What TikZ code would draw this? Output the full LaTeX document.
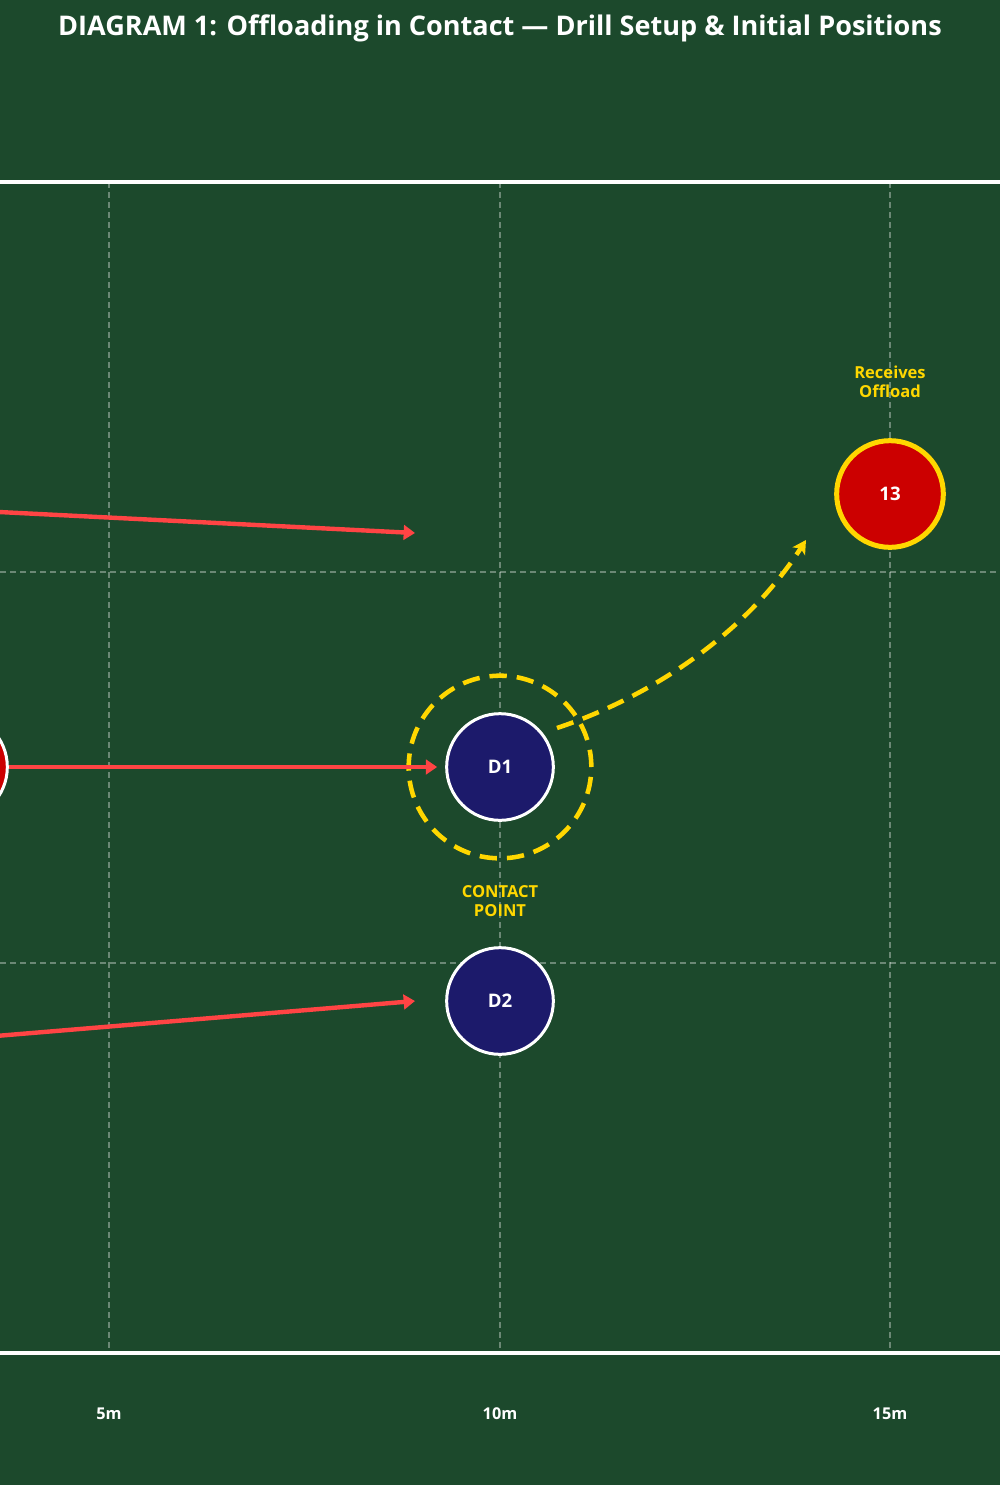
\documentclass[tikz,border=0pt]{standalone}
\usepackage{fontspec}
\setmainfont{Open Sans}
\usetikzlibrary{arrows.meta}

\definecolor{pitch}{RGB}{28,73,44}
\definecolor{navy}{RGB}{28,26,107}
\definecolor{rugbyred}{RGB}{204,0,0}
\definecolor{runred}{RGB}{255,68,68}
\definecolor{gold}{RGB}{255,215,0}

\tikzset{
  player/.style={circle, inner sep=0pt, minimum size=80pt, line width=2.25pt, text=white,
    font=\fontsize{14}{16}\selectfont\bfseries},
  defender/.style={player, fill=navy, draw=white},
  attacker/.style={player, fill=rugbyred, draw=white},
  receiver/.style={player, fill=rugbyred, draw=gold, line width=3.75pt},
  gridline/.style={white, opacity=0.35, line width=1.1pt, dash pattern=on 4.5pt off 3pt},
  fieldline/.style={white, line width=3.2pt},
  run/.style={runred, line width=3.3pt, -{Triangle[length=8.5pt,width=11pt]}},
  pass/.style={gold, line width=3.4pt, dash pattern=on 13pt off 7.5pt, -{Stealth[length=10pt,width=11pt,inset=2.5pt]}},
  note/.style={text=gold, align=center, font=\fontsize{12.4}{14.3}\selectfont\bfseries},
  metre/.style={text=white, font=\fontsize{12.2}{14}\selectfont\bfseries}
}

\begin{document}
\begin{tikzpicture}[x=0.75pt, y=-0.75pt]
    % pitch
    \fill[pitch] (0,0) rectangle (1000,1485);
    \useasboundingbox (0,0) rectangle (1000,1485);
    \clip (0,0) rectangle (1000,1485);
    \node[text=white, font=\fontsize{20.3}{24}\selectfont\bfseries] (title) at (500,28) {DIAGRAM 1: Offloading in Contact — Drill Setup \& Initial Positions};

    % grid
    \foreach \gx in {109,500,890}
        \draw[gridline] (\gx,182) -- (\gx,1353);
    \foreach \gy in {572,963}
        \draw[gridline] (0,\gy) -- (1000,\gy);
    \draw[fieldline] (0,182) -- (1000,182);
    \draw[fieldline] (0,1353) -- (1000,1353);
    \node[metre] (m5) at (109,1414) {5m};
    \node[metre] (m10) at (500,1414) {10m};
    \node[metre] (m15) at (890,1414) {15m};

    % contact zone
    \node[circle, minimum size=137pt, draw=gold, line width=3.4pt, dash pattern=on 13pt off 7.5pt] (ring) at (500,767) {};
    \node[defender] (d1) at (500,767) {D1};
    \node[defender] (d2) at (500,1001) {D2};
    \node[receiver] (13) at (890,494) {13};
    \node[attacker] (carrier) at (-46,767) {};
    \node[note] (contact) at (500,901) {CONTACT\\POINT};
    \node[note] (offload) at (890,382) {Receives\\Offload};

    % runs
    \coordinate (s1) at (-100,507);
    \coordinate (e1) at (415,533);
    \coordinate (s3) at (-100,1044);
    \coordinate (e3) at (415,1001);
    \draw[run] (s1) -- (e1);
    \draw[run, shorten >=6pt] (carrier) -- (d1);
    \draw[run] (s3) -- (e3);

    % offload
    \coordinate (p0) at (557,728);
    \coordinate (p1) at (806,540);
    \draw[pass] (p0) .. controls (650,697) and (745,635) .. (p1);
\end{tikzpicture}
\end{document}
